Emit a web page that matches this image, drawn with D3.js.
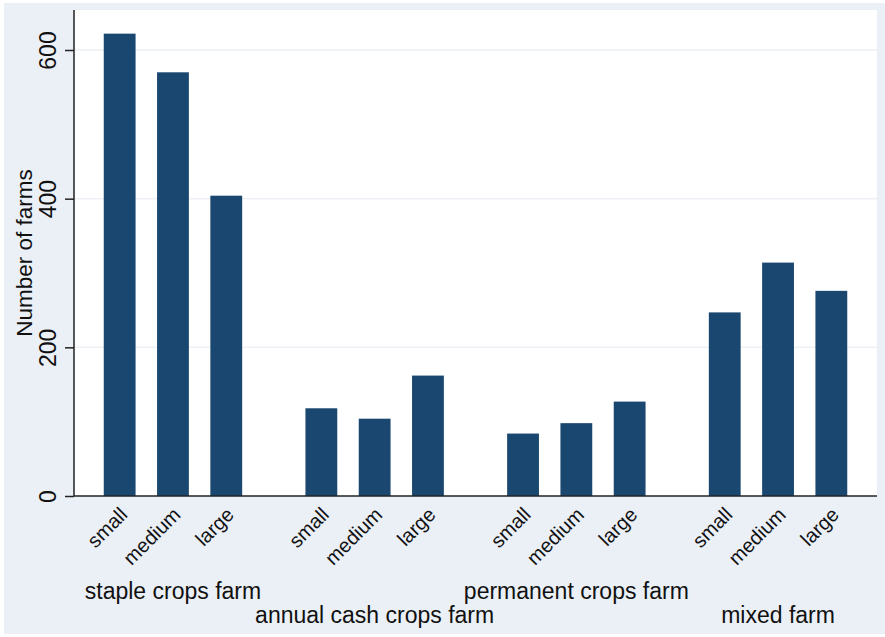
<!DOCTYPE html>
<html>
<head>
<meta charset="utf-8">
<script src="https://cdn.jsdelivr.net/npm/d3@7"></script>
<style>
  html, body { margin: 0; padding: 0; background: #ffffff; }
  svg { display: block; font-family: "Liberation Sans", Arial, sans-serif; }
</style>
</head>
<body>
<svg id="chart" width="885" height="637"></svg>
<script>
// ---- data ----
const groups = ["staple crops farm", "annual cash crops farm", "permanent crops farm", "mixed farm"];
const sizes = ["small", "medium", "large"];
const stapleValues = [622, 570, 404];
const annualValues = [118, 104, 162];
const permanentValues = [84, 98, 127];
const mixedValues = [247, 314, 276];
const yTicks = [0, 200, 400, 600];
const yTitle = "Number of farms";

const seriesByGroup = [stapleValues, annualValues, permanentValues, mixedValues];
const data = [];
groups.forEach((g, gi) => sizes.forEach((s, si) => data.push({ group: g, size: s, value: seriesByGroup[gi][si] })));

// ---- layout ----
const W = 885, H = 637;
const plot = { left: 74, right: 877, top: 10, bottom: 496 };
const svg = d3.select("#chart");

// outer graph region
svg.append("rect").attr("x", 4).attr("y", 3).attr("width", W - 4).attr("height", H - 6).attr("fill", "#ebf0f7");
// plot region
svg.append("rect").attr("x", plot.left).attr("y", plot.top)
  .attr("width", plot.right - plot.left).attr("height", plot.bottom - plot.top).attr("fill", "#ffffff");

const y = d3.scaleLinear().domain([0, 600]).range([plot.bottom, plot.bottom - 446]);
const xGroup = d3.scaleBand().domain(groups).range([plot.left, plot.right]).paddingInner(0.3137).paddingOuter(0.1475);
const xSize = d3.scaleBand().domain(sizes).range([0, xGroup.bandwidth()]).paddingInner(0.403).paddingOuter(0);

// gridlines
svg.append("g").selectAll("line").data(yTicks.filter(t => t > 0)).join("line")
  .attr("x1", plot.left).attr("x2", plot.right)
  .attr("y1", d => y(d)).attr("y2", d => y(d))
  .attr("stroke", "#edf1f5").attr("stroke-width", 1.5);

// bars
svg.append("g").selectAll("rect").data(data).join("rect")
  .attr("x", d => xGroup(d.group) + xSize(d.size))
  .attr("width", xSize.bandwidth())
  .attr("y", d => y(d.value))
  .attr("height", d => y(0) - y(d.value))
  .attr("fill", "#1a476f");

// y axis
const yAxis = d3.axisLeft(y).tickValues(yTicks).tickSize(9).tickPadding(0).tickFormat(d3.format("d"));
const gy = svg.append("g").attr("transform", `translate(${plot.left},0)`).call(yAxis);
gy.select(".domain").attr("d", `M0,${plot.top}V${plot.bottom}`).attr("stroke", "#222").attr("stroke-width", 1.5);
gy.selectAll(".tick line").attr("stroke", "#222").attr("stroke-width", 1.5);
gy.selectAll(".tick text")
  .attr("transform", "rotate(-90)")
  .attr("x", 0).attr("y", -18).attr("dy", 0)
  .attr("text-anchor", "middle")
  .attr("font-size", "23px")
  .attr("font-family", "'Liberation Sans', Arial, sans-serif")
  .attr("fill", "#111");

// x baseline
svg.append("line").attr("x1", plot.left).attr("x2", plot.right)
  .attr("y1", plot.bottom).attr("y2", plot.bottom)
  .attr("stroke", "#222").attr("stroke-width", 1.5);

// size labels (rotated 45)
svg.append("g").selectAll("text").data(data).join("text")
  .attr("transform", d => {
    const cx = xGroup(d.group) + xSize(d.size) + xSize.bandwidth() / 2 - 1;
    return `translate(${cx},${plot.bottom + 10}) rotate(-45)`;
  })
  .attr("text-anchor", "end")
  .attr("dy", "0.7em")
  .attr("font-size", "20px")
  .attr("fill", "#111")
  .text(d => d.size);

// group labels, alternating rows
svg.append("g").selectAll("text").data(groups).join("text")
  .attr("x", g => xGroup(g) + xGroup.bandwidth() / 2)
  .attr("y", (g, i) => i % 2 === 0 ? 599 : 623)
  .attr("text-anchor", "middle")
  .attr("font-size", "23px")
  .attr("fill", "#111")
  .text(g => g);

// y title
svg.append("text")
  .attr("transform", `translate(31.5,${(plot.top + plot.bottom) / 2}) rotate(-90)`)
  .attr("text-anchor", "middle")
  .attr("font-size", "22.5px")
  .attr("fill", "#111")
  .text(yTitle);
</script>
</body>
</html>
